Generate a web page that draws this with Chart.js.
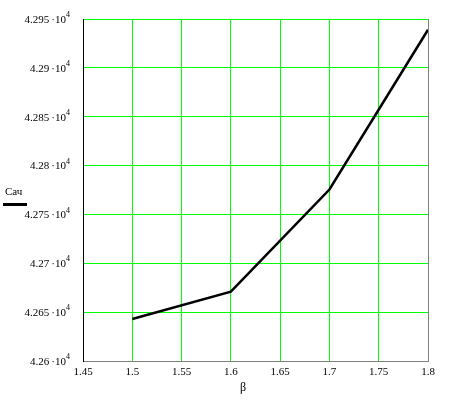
<!DOCTYPE html>
<html>
<head>
<meta charset="utf-8">
<script src="https://cdn.jsdelivr.net/npm/chart.js@4"></script>
<style>
  html, body { margin: 0; padding: 0; background: #fff; }
  #wrap { width: 453px; height: 407px; }
</style>
</head>
<body>
<div id="wrap"><canvas id="c" width="453" height="407"></canvas></div>
<script>
// data
const betaValues = [1.5, 1.6, 1.7, 1.8];
const cachValues = [42643, 42671, 42775.5, 42939];
const seriesLabel = 'Сач';
const xTitle = 'β';

const FONT = "'Liberation Serif', 'Times New Roman', serif";
const GREEN = '#00ff00';

// y ticks drawn as "4.295 ·10" with a raised exponent
const extras = {
    id: 'extras',
    afterDraw(chart) {
        const ctx = chart.ctx;
        const a = chart.chartArea;
        const ys = chart.scales.y;
        const xs = chart.scales.x;
        ctx.save();

        // gray right border
        ctx.strokeStyle = '#808080';
        ctx.lineWidth = 1;
        ctx.beginPath();
        ctx.moveTo(a.right + 0.5, a.top);
        ctx.lineTo(a.right + 0.5, a.bottom);
        ctx.stroke();

        // y tick labels
        ctx.fillStyle = '#000';
        ctx.textBaseline = 'middle';
        ys.ticks.forEach(t => {
            const py = ys.getPixelForValue(t.value);
            const m = parseFloat((t.value / 10000).toFixed(4));
            const right = a.left - 13;
            ctx.font = '8px ' + FONT;
            const ew = ctx.measureText('4').width;
            ctx.textAlign = 'right';
            ctx.fillText('4', right, py - 4);
            ctx.font = '11px ' + FONT;
            ctx.fillText(m + '\u2009\u00b710', right - ew, py + 1);
        });

        // x title
        ctx.font = '12px ' + FONT;
        ctx.textAlign = 'center';
        ctx.fillText(xTitle, xs.left + 160, 388);

        // legend
        ctx.font = '11px ' + FONT;
        ctx.textBaseline = 'alphabetic';
        ctx.textAlign = 'left';
        ctx.fillText(chart.data.datasets[0].label, 5, 195);
        ctx.strokeStyle = '#000';
        ctx.lineWidth = 3;
        ctx.beginPath();
        ctx.moveTo(3, 204.5);
        ctx.lineTo(27, 204.5);
        ctx.stroke();
        ctx.restore();
    }
};

const data = {
    datasets: [{
        label: seriesLabel,
        data: betaValues.map((b, i) => ({ x: b, y: cachValues[i] })),
        borderColor: '#000',
        borderWidth: 2.5,
        pointRadius: 0,
        fill: false,
        tension: 0
    }]
};

const config = {
    type: 'line',
    data: data,
    options: {
        responsive: false,
        animation: false,
        layout: { padding: { left: 0, right: 25, top: 19, bottom: 0 } },
        plugins: {
            legend: { display: false },
            tooltip: { enabled: false }
        },
        scales: {
            x: {
                type: 'linear',
                min: 1.45,
                max: 1.8,
                ticks: {
                    stepSize: 0.05,
                    color: '#000',
                    font: { family: FONT, size: 11 },
                    padding: 5,
                    callback: (v) => parseFloat(v.toFixed(2)).toString()
                },
                grid: { color: GREEN, lineWidth: 1, tickLength: 0 },
                border: { color: '#808080', width: 1 },
                afterFit: (s) => { s.height = 46; }
            },
            y: {
                min: 42600,
                max: 42950,
                ticks: { stepSize: 50, display: false },
                grid: { color: GREEN, lineWidth: 1, tickLength: 0 },
                border: { color: '#000', width: 1 },
                afterFit: (s) => { s.width = 83; }
            }
        }
    },
    plugins: [extras]
};

const ctx = document.getElementById('c').getContext('2d');
new Chart(ctx, config);
</script>
</body>
</html>
